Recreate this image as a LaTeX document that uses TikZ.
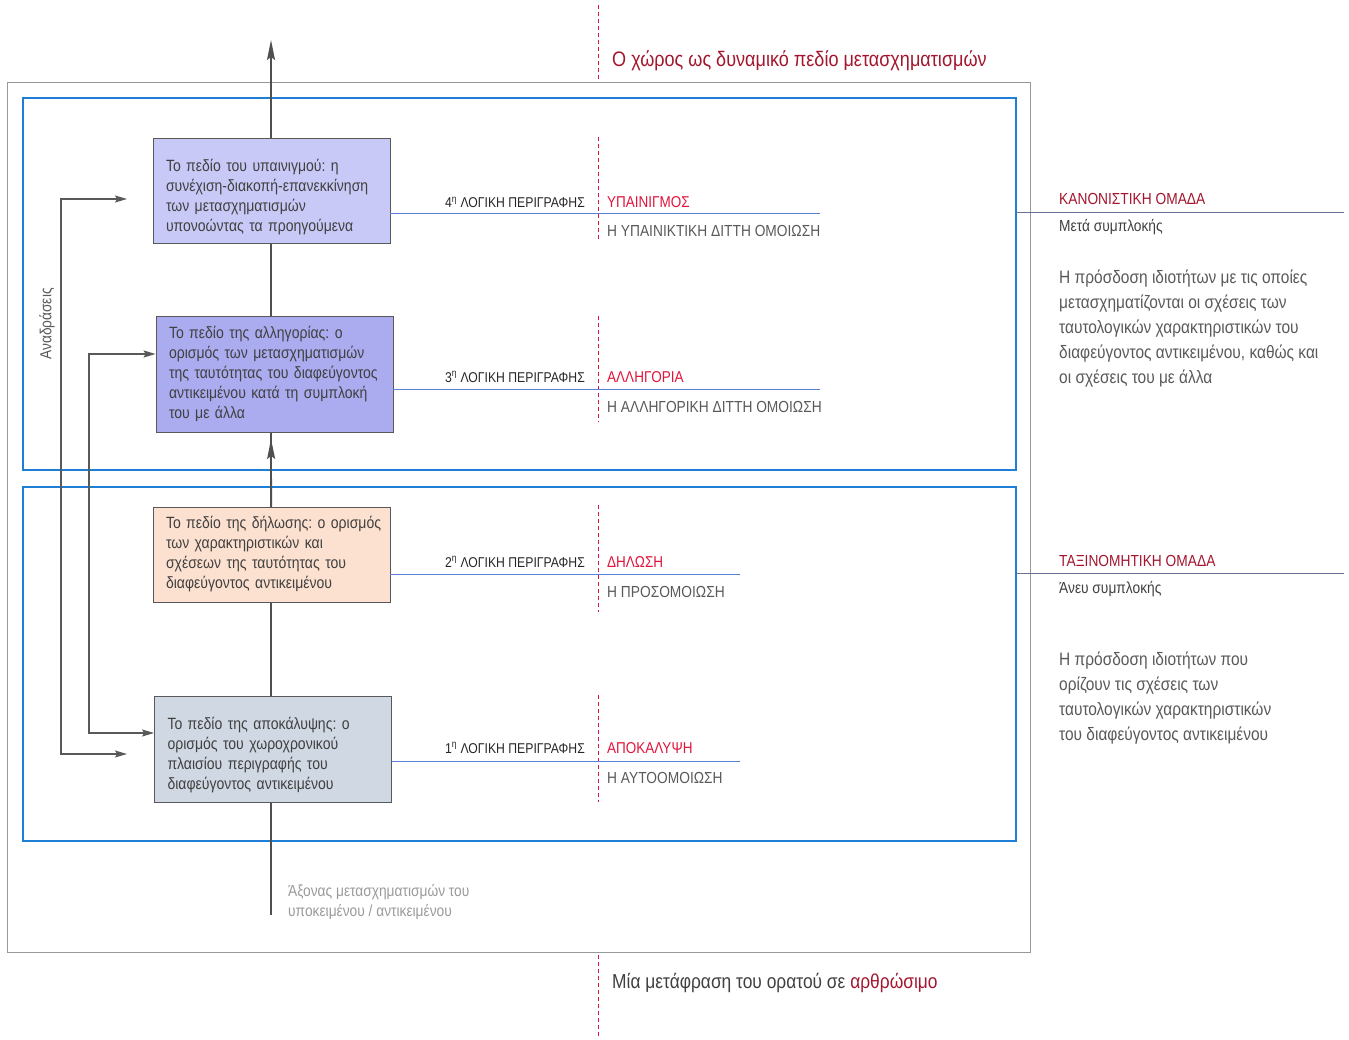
\documentclass[tikz,border=0pt]{standalone}
\usepackage{fontspec}
\setmainfont[FakeStretch=0.86]{Liberation Sans}
\usetikzlibrary{arrows.meta}

\definecolor{frameblue}{HTML}{1F7FD6}
\definecolor{linkblue}{HTML}{5C80D8}
\definecolor{sideline}{HTML}{6A6F98}
\definecolor{darkred}{HTML}{A3162E}
\definecolor{brightred}{HTML}{E0143C}
\definecolor{txtgray}{HTML}{404040}
\definecolor{midgray}{HTML}{595959}
\definecolor{lightgray}{HTML}{9A9A9A}
\definecolor{axisgray}{HTML}{505050}
\definecolor{fillA}{HTML}{C9C9F7}
\definecolor{fillB}{HTML}{ABABF0}
\definecolor{fillC}{HTML}{FCE1D0}
\definecolor{fillD}{HTML}{D0D8E4}

\newcommand{\lowerfirst}{\rule{0pt}{25pt}}
\newcommand{\tightspaces}{\frenchspacing\spaceskip=0.15em plus 0.08em minus 0.02em\relax}

\tikzset{
  field/.style={draw=midgray, line width=0.9pt, minimum width=237pt, text width=211pt,
    align=left, inner sep=0pt, font=\fontsize{16.3}{20}\selectfont\tightspaces, text=txtgray},
  group/.style={draw=frameblue, line width=1.8pt},
  axisline/.style={draw=axisgray, line width=1.4pt},
  axistip/.style={-{Stealth[length=20pt,width=8pt,inset=3pt]}},
  feedback/.style={draw=midgray, line width=1.2pt,
    {Stealth[length=12pt,width=7pt,inset=2pt]}-{Stealth[length=12pt,width=7pt,inset=2pt]}},
  hline/.style={draw=linkblue, line width=1pt},
  sline/.style={draw=sideline, line width=1pt},
  reddash/.style={draw=brightred, line width=0.8pt, dash pattern=on 4pt off 3pt},
  lbl/.style={inner sep=0pt, anchor=base west},
  rowlabel/.style={inner sep=0pt, anchor=base east, text=black!85, font=\fontsize{14.2}{16}\selectfont},
  rowname/.style={lbl, text=brightred, font=\fontsize{15.7}{17}\selectfont},
  rowsub/.style={lbl, text=midgray, font=\fontsize{16}{17}\selectfont},
}

\begin{document}
\begin{tikzpicture}[x=1pt,y=-1pt]
\useasboundingbox (0,0) rectangle (1349,1040);

% outer frame
\draw[draw=gray!80, line width=0.7pt] (7,82) rectangle (1030,952);

% red dashed guide lines
\draw[reddash] (598,5) -- (598,80);
\draw[reddash] (598,955) -- (598,1037);
\draw[reddash] (598,137) -- (598,240);
\draw[reddash] (598,316) -- (598,422);
\draw[reddash] (598,505) -- (598,612);
\draw[reddash] (598,695) -- (598,802);

% headline and footline
\node[lbl, text=darkred, font=\fontsize{21}{24}\selectfont] (title) at (612,67)
  {Ο χώρος ως δυναμικό πεδίο μετασχηματισμών};
\node[lbl, text=txtgray, font=\fontsize{20.2}{23}\selectfont] (foot) at (612,988)
  {Μία μετάφραση του ορατού σε \textcolor{darkred}{αρθρώσιμο}};

% the two groups
\draw[group] (23,98) rectangle (1016,470);
\draw[group] (23,487) rectangle (1016,841);

% axis of transformations
\coordinate (axbot) at (271,915);
\coordinate (axtop) at (271,40);
\coordinate (axmid) at (271,439);
\draw[axisline, axistip] (axbot) -- (axtop);

% fields
\node[field, fill=fillA, minimum height=105pt] (f4) at (271.5,190.5)
  {\lowerfirst Το πεδίο του υπαινιγμού: η\\συνέχιση-διακοπή-επανεκκίνηση\\των μετασχηματισμών\\υπονοώντας τα προηγούμενα};
\node[field, fill=fillB, minimum height=116pt] (f3) at (274.5,374)
  {Το πεδίο της αλληγορίας: ο\\ορισμός των μετασχηματισμών\\της ταυτότητας του διαφεύγοντος\\αντικειμένου κατά τη συμπλοκή\\του με άλλα};
\node[field, fill=fillC, minimum height=95pt] (f2) at (271.5,554.5)
  {\mbox{Το πεδίο της δήλωσης: ο ορισμός}\\των χαρακτηριστικών και\\σχέσεων της ταυτότητας του\\διαφεύγοντος αντικειμένου};
\node[field, fill=fillD, minimum height=106pt] (f1) at (273,749)
  {\lowerfirst Το πεδίο της αποκάλυψης: ο\\ορισμός του χωροχρονικού\\πλαισίου περιγραφής του\\διαφεύγοντος αντικειμένου};

\draw[axisline, axistip] (f2.north) -- (axmid);

% feedback loops
\node[rotate=90, inner sep=0pt, text=midgray, font=\fontsize{16}{18}\selectfont] (fbl) at (47,324) {Αναδράσεις};
\coordinate (o1) at (127,754);
\coordinate (o4) at (127,199);
\draw[feedback] (o1) -- ++(-66,0) |- (o4);
\draw[feedback] ([yshift=16pt]f1.west) -- ++(-65,0) |- ([yshift=20pt]f3.west);

% links to the descriptions
\coordinate (e4) at (820,214);
\coordinate (e3) at (820,389);
\coordinate (e2) at (740,574);
\coordinate (e1) at (740,761);
\draw[hline] (f4.east |- e4) -- (e4);
\draw[hline] (f3.east |- e3) -- (e3);
\draw[hline] (f2.east |- e2) -- (e2);
\draw[hline] (f1.east |- e1) -- (e1);

\node[rowlabel] (l4) at (585,208) {4\textsuperscript{η} ΛΟΓΙΚΗ ΠΕΡΙΓΡΑΦΗΣ};
\node[rowname] (n4) at (607,208) {ΥΠΑΙΝΙΓΜΟΣ};
\node[rowsub] (s4) at (607,237) {Η ΥΠΑΙΝΙΚΤΙΚΗ ΔΙΤΤΗ ΟΜΟΙΩΣΗ};

\node[rowlabel] (l3) at (585,382) {3\textsuperscript{η} ΛΟΓΙΚΗ ΠΕΡΙΓΡΑΦΗΣ};
\node[rowname] (n3) at (607,382) {ΑΛΛΗΓΟΡΙΑ};
\node[rowsub] (s3) at (607,412) {Η ΑΛΛΗΓΟΡΙΚΗ ΔΙΤΤΗ ΟΜΟΙΩΣΗ};

\node[rowlabel] (l2) at (585,567) {2\textsuperscript{η} ΛΟΓΙΚΗ ΠΕΡΙΓΡΑΦΗΣ};
\node[rowname] (n2) at (607,567) {ΔΗΛΩΣΗ};
\node[rowsub] (s2) at (607,597) {Η ΠΡΟΣΟΜΟΙΩΣΗ};

\node[rowlabel] (l1) at (585,753) {1\textsuperscript{η} ΛΟΓΙΚΗ ΠΕΡΙΓΡΑΦΗΣ};
\node[rowname] (n1) at (607,753) {ΑΠΟΚΑΛΥΨΗ};
\node[rowsub] (s1) at (607,783) {Η ΑΥΤΟΟΜΟΙΩΣΗ};

% axis caption
\node[anchor=north west, align=left, inner sep=0pt, text=lightgray, font=\fontsize{16}{20}\selectfont] (axcap) at (288,884)
  {Άξονας μετασχηματισμών του\\υποκειμένου / αντικειμένου};

% side notes
\coordinate (r1a) at (1016,213);
\coordinate (r1b) at (1344,213);
\coordinate (r2a) at (1016,573);
\coordinate (r2b) at (1344,573);
\draw[sline] (r1a) -- (r1b);
\draw[sline] (r2a) -- (r2b);

\node[lbl, text=darkred, font=\fontsize{16}{18}\selectfont] (k1) at (1059,205) {ΚΑΝΟΝΙΣΤΙΚΗ ΟΜΑΔΑ};
\node[lbl, text=txtgray, font=\fontsize{16}{18}\selectfont] (k2) at (1059,232) {Μετά συμπλοκής};
\node[anchor=north west, align=left, inner sep=0pt, text=midgray, font=\fontsize{18}{25}\selectfont] (k3) at (1059,270)
  {Η πρόσδοση ιδιοτήτων με τις οποίες\\μετασχηματίζονται οι σχέσεις των\\ταυτολογικών χαρακτηριστικών του\\διαφεύγοντος αντικειμένου, καθώς και\\οι σχέσεις του με άλλα};

\node[lbl, text=darkred, font=\fontsize{16}{18}\selectfont] (t1) at (1059,566) {ΤΑΞΙΝΟΜΗΤΙΚΗ ΟΜΑΔΑ};
\node[lbl, text=txtgray, font=\fontsize{16}{18}\selectfont] (t2) at (1059,593) {Άνευ συμπλοκής};
\node[anchor=north west, align=left, inner sep=0pt, text=midgray, font=\fontsize{18}{25}\selectfont] (t3) at (1059,652)
  {Η πρόσδοση ιδιοτήτων που\\ορίζουν τις σχέσεις των\\ταυτολογικών χαρακτηριστικών\\του διαφεύγοντος αντικειμένου};
\end{tikzpicture}
\end{document}
